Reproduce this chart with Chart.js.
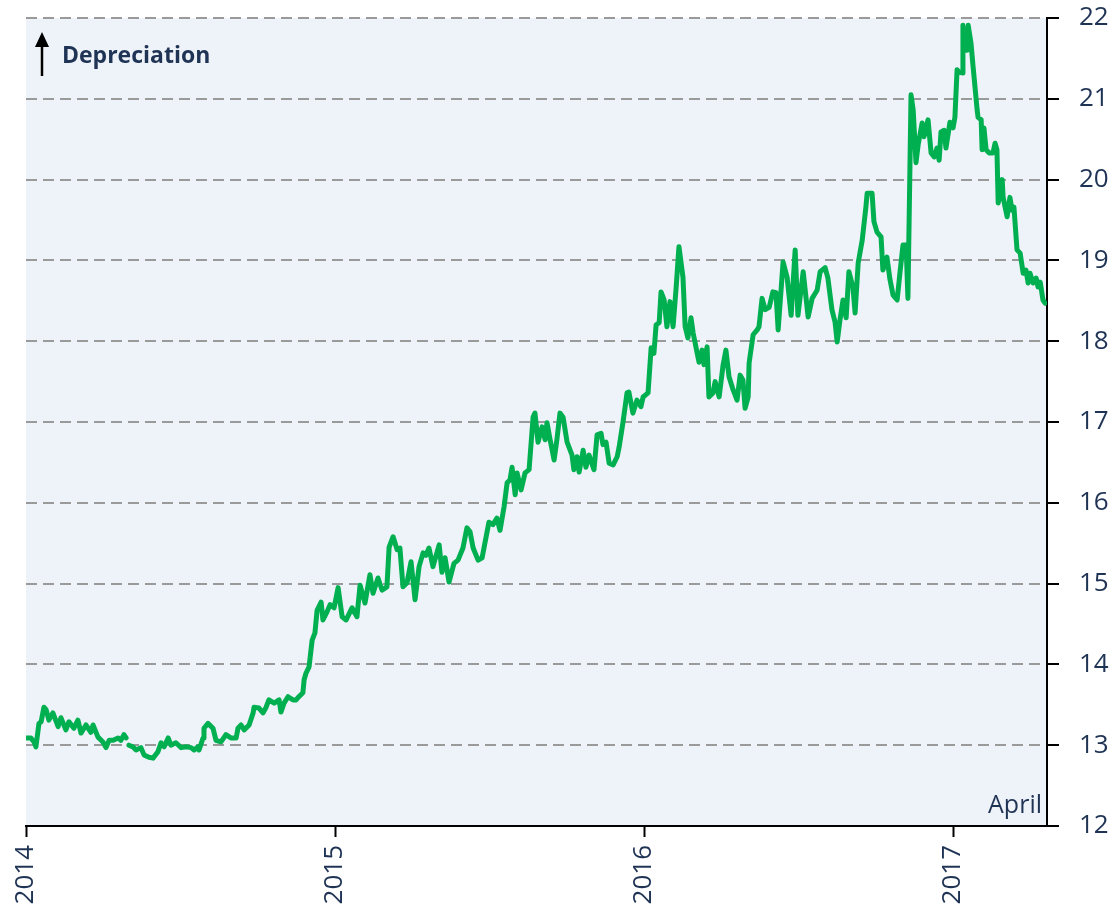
<!DOCTYPE html>
<html>
<head>
<meta charset="utf-8">
<script src="https://cdn.jsdelivr.net/npm/chart.js@4.4.1/dist/chart.umd.min.js"></script>
<style>
  html, body { margin: 0; padding: 0; background: #fff; }
  #wrap { width: 1117px; height: 913px; }
</style>
</head>
<body>
<div id="wrap"><canvas id="fx-chart" width="1117" height="913"></canvas></div>
<script>
// Peso per U.S. dollar, 2014 to April 2017
var years = [
  2014.000, 2014.016, 2014.026, 2014.032, 2014.042, 2014.049, 2014.058, 2014.065, 2014.074, 2014.087,
  2014.104, 2014.113, 2014.129, 2014.139, 2014.155, 2014.168, 2014.178, 2014.194, 2014.210, 2014.217,
  2014.233, 2014.249, 2014.259, 2014.269, 2014.282, 2014.298, 2014.307, 2014.317, 2014.324, 2014.328,
  2014.333, 2014.346, 2014.356, 2014.372, 2014.382, 2014.398, 2014.411, 2014.427, 2014.437, 2014.447,
  2014.460, 2014.469, 2014.485, 2014.502, 2014.518, 2014.534, 2014.544, 2014.557, 2014.560, 2014.573,
  2014.576, 2014.589, 2014.605, 2014.615, 2014.631, 2014.647, 2014.663, 2014.680, 2014.686, 2014.696,
  2014.706, 2014.722, 2014.735, 2014.738, 2014.754, 2014.767, 2014.777, 2014.786, 2014.803, 2014.819,
  2014.825, 2014.835, 2014.848, 2014.864, 2014.874, 2014.883, 2014.896, 2014.900, 2014.906, 2014.916,
  2014.926, 2014.935, 2014.942, 2014.955, 2014.961, 2014.974, 2014.984, 2014.997, 2015.010, 2015.023,
  2015.036, 2015.055, 2015.071, 2015.081, 2015.097, 2015.113, 2015.123, 2015.139, 2015.152, 2015.168,
  2015.175, 2015.188, 2015.201, 2015.210, 2015.220, 2015.233, 2015.246, 2015.259, 2015.272, 2015.285,
  2015.294, 2015.304, 2015.317, 2015.337, 2015.346, 2015.356, 2015.369, 2015.385, 2015.398, 2015.414,
  2015.427, 2015.437, 2015.447, 2015.463, 2015.476, 2015.489, 2015.498, 2015.511, 2015.524, 2015.534,
  2015.547, 2015.557, 2015.566, 2015.573, 2015.583, 2015.589, 2015.602, 2015.615, 2015.628, 2015.641,
  2015.647, 2015.657, 2015.670, 2015.680, 2015.686, 2015.696, 2015.709, 2015.718, 2015.728, 2015.738,
  2015.751, 2015.767, 2015.773, 2015.783, 2015.790, 2015.803, 2015.812, 2015.822, 2015.838, 2015.848,
  2015.861, 2015.867, 2015.877, 2015.887, 2015.900, 2015.913, 2015.919, 2015.932, 2015.945, 2015.951,
  2015.964, 2015.977, 2015.990, 2015.997, 2016.013, 2016.023, 2016.032, 2016.039, 2016.049, 2016.055,
  2016.065, 2016.074, 2016.084, 2016.094, 2016.104, 2016.113, 2016.126, 2016.133, 2016.142, 2016.152,
  2016.159, 2016.172, 2016.178, 2016.188, 2016.194, 2016.204, 2016.210, 2016.223, 2016.230, 2016.243,
  2016.256, 2016.265, 2016.275, 2016.288, 2016.301, 2016.311, 2016.320, 2016.327, 2016.337, 2016.340,
  2016.353, 2016.366, 2016.372, 2016.382, 2016.392, 2016.405, 2016.417, 2016.427, 2016.434, 2016.450,
  2016.463, 2016.476, 2016.489, 2016.498, 2016.515, 2016.531, 2016.544, 2016.560, 2016.570, 2016.586,
  2016.595, 2016.608, 2016.618, 2016.625, 2016.634, 2016.644, 2016.654, 2016.663, 2016.676, 2016.683,
  2016.693, 2016.706, 2016.718, 2016.722, 2016.738, 2016.744, 2016.754, 2016.767, 2016.773, 2016.786,
  2016.796, 2016.806, 2016.819, 2016.828, 2016.838, 2016.848, 2016.854, 2016.864, 2016.871, 2016.880,
  2016.887, 2016.900, 2016.906, 2016.919, 2016.929, 2016.939, 2016.948, 2016.955, 2016.961, 2016.971,
  2016.977, 2016.990, 2017.000, 2017.006, 2017.013, 2017.019, 2017.029, 2017.032, 2017.036, 2017.045,
  2017.049, 2017.058, 2017.065, 2017.078, 2017.081, 2017.091, 2017.094, 2017.100, 2017.107, 2017.117,
  2017.129, 2017.136, 2017.142, 2017.146, 2017.159, 2017.162, 2017.175, 2017.184, 2017.191, 2017.197,
  2017.207, 2017.217, 2017.227, 2017.236, 2017.243, 2017.249, 2017.259, 2017.269, 2017.275, 2017.282,
  2017.291, 2017.298
];
var pesoPerDollar = [
  13.09, 13.09, 13.04, 12.98, 13.27, 13.29, 13.47, 13.44, 13.31, 13.40,
  13.23, 13.34, 13.19, 13.29, 13.21, 13.31, 13.15, 13.25, 13.16, 13.25,
  13.10, 13.04, 12.97, 13.06, 13.06, 13.09, 13.06, 13.13, 13.09, null,
  13.00, 12.98, 12.94, 12.97, 12.88, 12.85, 12.84, 12.92, 13.03, 12.98,
  13.09, 13.00, 13.03, 12.97, 12.98, 12.97, 12.94, 12.98, 12.94, 13.09,
  13.21, 13.27, 13.21, 13.06, 13.04, 13.13, 13.09, 13.09, 13.21, 13.25,
  13.19, 13.25, 13.40, 13.47, 13.46, 13.40, 13.47, 13.56, 13.52, 13.56,
  13.41, 13.52, 13.60, 13.56, 13.56, 13.60, 13.65, 13.81, 13.89, 13.97,
  14.30, 14.39, 14.67, 14.77, 14.55, 14.65, 14.74, 14.70, 14.95, 14.59,
  14.55, 14.70, 14.59, 14.98, 14.76, 15.11, 14.88, 15.07, 14.92, 14.96,
  15.45, 15.58, 15.42, 15.44, 14.96, 15.01, 15.27, 14.80, 15.21, 15.38,
  15.35, 15.44, 15.21, 15.48, 15.14, 15.32, 15.02, 15.25, 15.29, 15.44,
  15.69, 15.64, 15.44, 15.29, 15.32, 15.58, 15.76, 15.73, 15.81, 15.66,
  15.95, 16.25, 16.28, 16.44, 16.10, 16.37, 16.16, 16.37, 16.41, 17.06,
  17.11, 16.75, 16.94, 16.78, 16.99, 16.78, 16.53, 16.78, 17.11, 17.06,
  16.75, 16.59, 16.41, 16.57, 16.38, 16.65, 16.44, 16.59, 16.41, 16.84,
  16.86, 16.72, 16.75, 16.49, 16.47, 16.57, 16.68, 17.00, 17.36, 17.37,
  17.11, 17.27, 17.19, 17.31, 17.36, 17.92, 17.85, 18.20, 18.23, 18.61,
  18.51, 18.18, 18.49, 18.18, 18.67, 19.17, 18.79, 18.18, 18.04, 18.29,
  18.10, 17.85, 17.74, 17.89, 17.71, 17.93, 17.31, 17.36, 17.50, 17.31,
  17.71, 17.89, 17.56, 17.40, 17.27, 17.58, 17.52, 17.17, 17.31, 17.73,
  18.08, 18.14, 18.18, 18.53, 18.39, 18.42, 18.61, 18.60, 18.14, 18.98,
  18.79, 18.32, 19.13, 18.32, 18.86, 18.30, 18.53, 18.63, 18.86, 18.91,
  18.78, 18.39, 18.24, 17.99, 18.26, 18.51, 18.29, 18.86, 18.67, 18.35,
  18.97, 19.25, 19.66, 19.83, 19.83, 19.48, 19.35, 19.29, 18.88, 19.04,
  18.76, 18.57, 18.51, 18.84, 19.19, 19.19, 18.53, 21.05, 20.86, 20.21,
  20.43, 20.70, 20.53, 20.74, 20.33, 20.28, 20.39, 20.24, 20.59, 20.61,
  20.39, 20.71, 20.64, 20.77, 21.36, 21.33, 21.32, 21.91, 21.60, 21.60,
  21.91, 21.69, 21.39, 20.86, 20.77, 20.74, 20.37, 20.64, 20.37, 20.33,
  20.33, 20.45, 20.37, 19.71, 20.00, 19.78, 19.54, 19.78, 19.62, 19.66,
  19.13, 19.09, 18.84, 18.88, 18.72, 18.84, 18.72, 18.78, 18.67, 18.73,
  18.51, 18.47
];
var yearTicks = [2014, 2015, 2016, 2017];
var xEnd = 2017.304;
var yMin = 12, yMax = 22;

var navy = '#1F3354';
var font = "'Open Sans', sans-serif";

var points = [];
for (var i = 0; i < years.length; i++) {
    points.push({x: years[i], y: pesoPerDollar[i]});
}

var notes = {
    id: 'notes',
    beforeDraw: function(chart) {
        var a = chart.chartArea, ctx = chart.ctx;
        ctx.save();
        ctx.fillStyle = '#EEF2F9';
        ctx.fillRect(a.left, a.top, a.right - a.left, a.bottom - a.top);
        ctx.restore();
    },
    afterDraw: function(chart) {
        var a = chart.chartArea, ctx = chart.ctx;
        ctx.save();
        // arrow
        ctx.strokeStyle = '#000';
        ctx.fillStyle = '#000';
        ctx.lineWidth = 2.5;
        ctx.beginPath();
        ctx.moveTo(a.left + 16, a.top + 58);
        ctx.lineTo(a.left + 16, a.top + 26);
        ctx.stroke();
        ctx.beginPath();
        ctx.moveTo(a.left + 16, a.top + 14);
        ctx.lineTo(a.left + 9, a.top + 29);
        ctx.lineTo(a.left + 23, a.top + 29);
        ctx.closePath();
        ctx.fill();
        ctx.fillStyle = navy;
        ctx.font = "bold 23px " + font;
        ctx.textAlign = 'left';
        ctx.textBaseline = 'alphabetic';
        ctx.fillText('Depreciation', a.left + 36, a.top + 45);
        ctx.font = "25px " + font;
        ctx.textAlign = 'right';
        ctx.fillText('April', a.right - 5, a.bottom - 13);
        ctx.restore();
    }
};

var lineChart = new Chart(document.getElementById('fx-chart'), {
    type: 'line',
    data: {
        datasets: [{
            label: 'Peso per dollar',
            data: points,
            borderColor: '#00B050',
            borderWidth: 5,
            borderJoinStyle: 'round',
            borderCapStyle: 'round',
            pointRadius: 0,
            tension: 0,
            spanGaps: false,
            fill: false
        }]
    },
    options: {
        responsive: false,
        animation: false,
        devicePixelRatio: 1,
        layout: { padding: { left: 26, top: 0, right: 0, bottom: 0 } },
        plugins: {
            legend: { display: false },
            title: { display: false },
            tooltip: { enabled: false }
        },
        scales: {
            x: {
                type: 'linear',
                min: 2014,
                max: xEnd,
                afterBuildTicks: function(scale) {
                    scale.ticks = yearTicks.map(function(v) { return {value: v}; });
                },
                afterFit: function(scale) { scale.height = 87; },
                grid: {
                    drawOnChartArea: false,
                    drawTicks: true,
                    tickLength: 11,
                    tickWidth: 2,
                    tickColor: '#000'
                },
                border: { display: true, color: '#000', width: 2 },
                ticks: {
                    minRotation: 90,
                    maxRotation: 90,
                    padding: 8,
                    color: navy,
                    font: { family: font, size: 26 },
                    callback: function(v) { return String(v); }
                }
            },
            y: {
                position: 'right',
                min: yMin,
                max: yMax,
                afterFit: function(scale) {
                    scale.width = 70;
                    scale.paddingTop = 18;
                    scale.paddingBottom = 0;
                },
                grid: {
                    color: function(c) { return c.tick && c.tick.value === yMin ? 'rgba(0,0,0,0)' : '#9A9A9A'; },
                    lineWidth: 2,
                    drawTicks: true,
                    tickLength: 12,
                    tickWidth: 2,
                    tickColor: '#000',
                    tickBorderDash: []
                },
                border: { display: true, color: '#000', width: 2, dash: [11, 6] },
                ticks: {
                    stepSize: 1,
                    padding: 20,
                    color: navy,
                    font: { family: font, size: 26 }
                }
            }
        }
    },
    plugins: [notes]
});
</script>
</body>
</html>
